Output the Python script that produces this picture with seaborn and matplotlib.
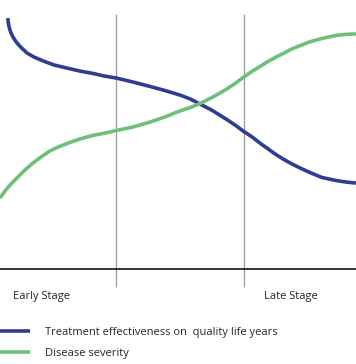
import matplotlib
matplotlib.use("Agg")
import matplotlib.pyplot as plt
import seaborn as sns
import pandas as pd

# disease progression (0-100) vs level (0-100)
treat_x = [2.2, 2.3, 2.5, 2.8, 3.2, 3.8, 4.8, 5.9, 7.6, 9.6, 12.1, 15.2, 18.8,
           22.5, 26.1, 29.2, 32.6, 37.4, 42.1, 46.3, 50.6, 53.4, 55.9, 59.6,
           63.5, 66.0, 68.5, 70.8, 73.0, 75.3, 77.5, 79.8, 82.0, 84.3, 86.8,
           90.4, 94.4, 97.2, 100]
treat_y = [98.4, 96.9, 95.3, 93.7, 92.2, 90.6, 88.6, 86.9, 84.7, 83.1, 81.6, 80.0,
           78.8, 77.6, 76.7, 75.7, 74.9, 73.3, 71.6, 70.0, 68.2, 66.7, 64.9, 62.2,
           58.8, 56.5, 53.9, 51.8, 49.4, 47.1, 44.9, 42.9, 41.2, 39.6, 38.0,
           35.9, 34.7, 34.1, 33.7]

sev_x = [0, 1.4, 2.8, 4.2, 5.6, 7.3, 9.3, 11.5, 14.0, 16.3, 18.8, 22.5, 26.1,
         29.5, 32.6, 37.4, 42.1, 46.3, 50.6, 53.4, 55.9, 59.6, 63.5, 66.0,
         68.5, 70.8, 73.0, 75.3, 77.5, 79.8, 82.0, 84.3, 86.8, 90.4, 94.4,
         97.2, 100]
sev_y = [27.8, 30.6, 32.9, 34.9, 36.9, 39.2, 41.6, 43.9, 46.3, 47.8, 49.2, 51.0,
         52.4, 53.3, 54.3, 55.7, 57.6, 59.6, 62.0, 63.3, 64.7, 67.3, 70.4, 72.7,
         75.3, 77.5, 79.4, 81.4, 83.1, 84.7, 86.3, 87.6, 89.0, 90.4, 91.6,
         92.0, 92.2]

stage_marks = [32.6, 68.5]
stage_labels = ["Early Stage", "Late Stage"]
stage_label_x = [11.7, 81.7]

series_names = ["Treatment effectiveness on  quality life years", "Disease severity"]
colors = ["#2e3d91", "#6cc07a"]

sns.set_style("white")
plt.rcParams["font.family"] = ["Open Sans", "DejaVu Sans"]

df = pd.concat([
    pd.DataFrame({"x": treat_x, "y": treat_y, "series": series_names[0]}),
    pd.DataFrame({"x": sev_x, "y": sev_y, "series": series_names[1]}),
])

fig = plt.figure(figsize=(3.56, 3.64), dpi=100)
ax = fig.add_axes([0, 95 / 364, 1, 255 / 364])

for xv in stage_marks:
    ax.axvline(xv, ymin=-0.07, ymax=1, color="#9a9a9a", lw=0.9, clip_on=False, zorder=1)

sns.lineplot(data=df, x="x", y="y", hue="series", palette=colors, sort=False,
             linewidth=2.6, ax=ax, zorder=3)
for ln in ax.lines:
    ln.set_solid_capstyle("butt")
    ln.set_solid_joinstyle("round")

ax.set_xlim(0, 100)
ax.set_ylim(0, 100)
ax.set_xlabel("")
ax.set_ylabel("")
ax.set_xticks([])
ax.set_yticks([])
for s in ["left", "right", "top"]:
    ax.spines[s].set_visible(False)
ax.spines["bottom"].set_color("#111111")
ax.spines["bottom"].set_linewidth(1.2)

for lx, lab in zip(stage_label_x, stage_labels):
    ax.text(lx, -10.6, lab, ha="center", va="center", fontsize=8, color="#222222")

ax.legend(loc="upper left", bbox_to_anchor=(0, 1 - 327 / 364),
          bbox_transform=fig.transFigure, frameon=False, fontsize=8,
          borderpad=0, borderaxespad=0, handlelength=2.7, handletextpad=1.35,
          labelspacing=0.92)

fig.savefig("out.png", dpi=100)
